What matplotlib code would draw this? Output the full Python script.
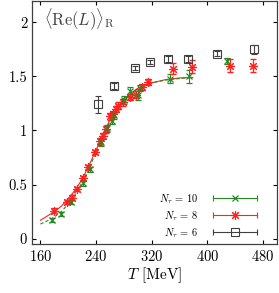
import numpy as np
import matplotlib
matplotlib.use('Agg')
import matplotlib.pyplot as plt
from matplotlib.lines import Line2D
from matplotlib.legend_handler import HandlerLine2D, HandlerTuple

plt.rcParams['font.family'] = 'cmr10'
plt.rcParams['mathtext.fontset'] = 'cm'
plt.rcParams['axes.formatter.use_mathtext'] = True

# N_tau = 10
T10 = [177, 190, 204, 221, 231, 247, 256, 263, 266, 280, 289, 300, 303, 346, 373, 428]
y10 = [0.17, 0.23, 0.34, 0.51, 0.64, 0.89, 1.02, 1.09, 1.14, 1.28, 1.36, 1.33, 1.39, 1.48, 1.50, 1.64]
e10 = [0.02, 0.02, 0.02, 0.02, 0.02, 0.03, 0.03, 0.03, 0.03, 0.04, 0.04, 0.05, 0.03, 0.04, 0.06, 0.03]

# N_tau = 8
T8 = [180, 198, 205, 213, 221, 229, 238, 245, 250, 254, 260, 264, 268, 272, 279, 288, 297, 306, 315, 350, 378, 433, 466]
y8 = [0.26, 0.34, 0.38, 0.46, 0.56, 0.66, 0.80, 0.90, 0.95, 1.01, 1.13, 1.15, 1.20, 1.23, 1.26, 1.31, 1.33, 1.40, 1.45, 1.57, 1.59, 1.60, 1.60]
e8 = [0.02, 0.02, 0.02, 0.02, 0.02, 0.02, 0.02, 0.03, 0.03, 0.03, 0.03, 0.03, 0.03, 0.03, 0.03, 0.03, 0.03, 0.03, 0.03, 0.05, 0.06, 0.06, 0.06]

# N_tau = 6
T6 = [242, 266, 296, 317, 344, 372, 414, 467]
y6 = [1.24, 1.41, 1.575, 1.63, 1.66, 1.66, 1.71, 1.75]
e6 = [0.08, 0.03, 0.02, 0.02, 0.03, 0.03, 0.02, 0.04]

# fit curves
Tfit = [160, 170, 180, 190, 200, 210, 220, 230, 240, 250, 260, 270, 280, 290, 300, 320, 340, 360, 379]
fit8 = [0.17, 0.21, 0.25, 0.30, 0.37, 0.45, 0.55, 0.68, 0.82, 0.96, 1.10, 1.21, 1.29, 1.345, 1.39, 1.44, 1.47, 1.485, 1.49]
fit10 = [0.135, 0.165, 0.20, 0.25, 0.32, 0.41, 0.52, 0.65, 0.80, 0.95, 1.09, 1.20, 1.285, 1.34, 1.385, 1.44, 1.465, 1.48, 1.49]

green = '#228b22'
red = '#ff2020'
gray = '#404040'

fig = plt.figure(figsize=(2.79, 2.93), dpi=100)
ax = fig.add_axes([0.115, 0.167, 0.878, 0.831])

ax.plot(Tfit, fit8, color=red, lw=0.8)
ax.plot(Tfit, fit10, color=green, lw=0.8, ls=(0, (3, 2)))

ax.errorbar(T10, y10, yerr=e10, fmt='x', color=green, ms=5, mew=0.9, elinewidth=0.8, capsize=2)
ax.errorbar(T8, y8, yerr=e8, fmt='none', ecolor=red, elinewidth=0.8, capsize=2)
ax.plot(T8, y8, ls='none', marker=(8, 2, 0), color=red, ms=6.5, mew=0.8)
ax.errorbar(T6, y6, yerr=e6, fmt='s', color=gray, mfc='none', ms=5.5, mew=0.8, elinewidth=0.8, capsize=2)

ax.set_xlim(148, 500)
ax.set_ylim(-0.05, 2.2)
ax.set_xticks([160, 240, 320, 400, 480])
ax.set_yticks([0, 0.5, 1, 1.5, 2])
ax.set_yticklabels(['0', '0.5', '1', '1.5', '2'])
ax.tick_params(direction='in', top=True, right=True, length=3, width=0.8, labelsize=10.5, colors='black')
for s in ax.spines.values():
    s.set_color(gray)
    s.set_linewidth(0.9)
ax.set_xlabel(r'$T$ [MeV]', fontsize=11, labelpad=1)

ax.text(0.05, 0.9, r'$\langle\mathrm{Re}(L)\rangle_\mathrm{R}$', transform=ax.transAxes,
        fontsize=12, color=gray)

# gnuplot-style legend entries: horizontal bar with caps and marker in the middle
def entry(color, **kw):
    bar = Line2D([], [], color=color, lw=0.8, marker='|', ms=5, mew=0.8)
    mk = Line2D([], [], color=color, ls='none', **kw)
    return (bar, mk)

h10 = entry(green, marker='x', ms=5, mew=0.9)
h8 = entry(red, marker=(8, 2, 0), ms=6.5, mew=0.8)
h6 = entry(gray, marker='s', mfc='none', ms=5.5, mew=0.8)
hmap = {}
for b, m in (h10, h8, h6):
    hmap[b] = HandlerLine2D(numpoints=2)
    hmap[m] = HandlerLine2D(numpoints=1)
hmap[tuple] = HandlerTuple(ndivide=1)
leg = ax.legend([h10, h8, h6], [r'$N_\tau\,=\,10$', r'$N_\tau\,=\,8$', r'$N_\tau\,=\,6$'],
                handler_map=hmap,
                loc='lower right', bbox_to_anchor=(0.97, -0.02), frameon=False, markerfirst=False,
                fontsize=7.5, handlelength=4.8, handletextpad=1.2, labelspacing=0.3)

fig.savefig('out.png', dpi=100)
